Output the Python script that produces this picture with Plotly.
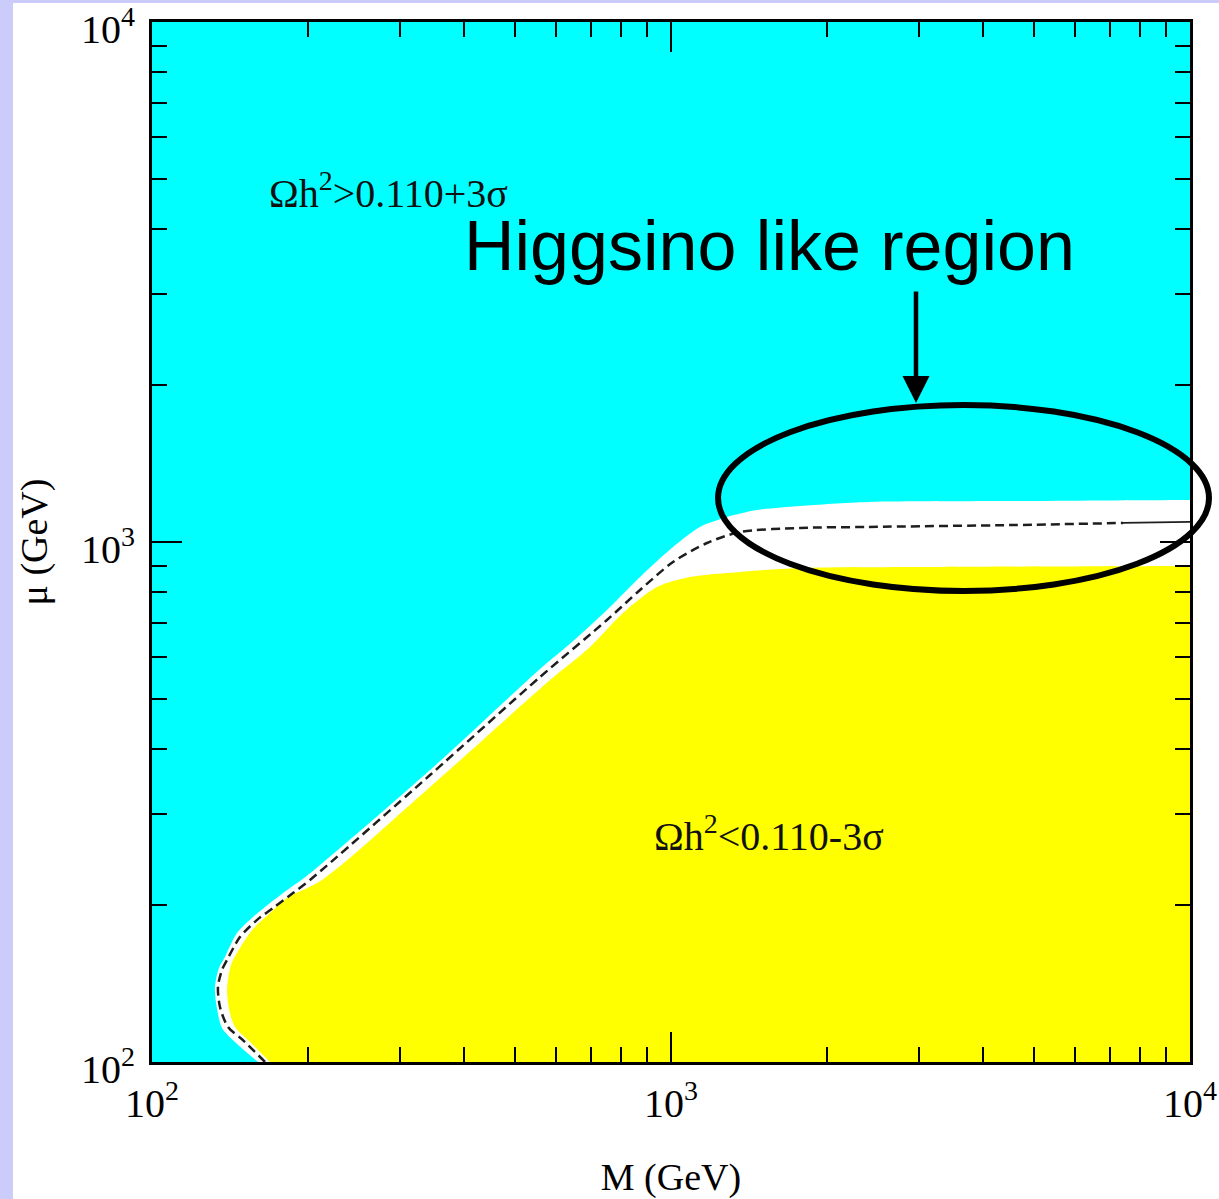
import numpy as np
import plotly.graph_objects as go

# ---------------- data (GeV) ----------------
# upper edge of the white band (boundary of the cyan region  Omega h^2 > 0.110+3sigma)
cyan_edge_M = [160.1, 144.5, 136.4, 133.4, 132.2, 134.6, 138.2, 145.8, 157.3, 168.8, 184.5, 198.9,
               343.3, 559.3, 647.6, 752.6, 871.6, 1009, 1137, 1282, 1465, 1773, 2397, 4580, 10000]
cyan_edge_mu = [100, 109.3, 116.3, 127.0, 138.8, 151.6, 159.2, 177.0, 190.9, 202.3, 216.1, 228.0,
                364.3, 569.9, 645.1, 740.0, 856.6, 978.1, 1069, 1117, 1152, 1173, 1194, 1199, 1205]

# lower edge of the white band (boundary of the yellow region  Omega h^2 < 0.110-3sigma)
yellow_edge_M = [168.8, 154.5, 144.5, 141.3, 139.5, 142.0, 147.7, 155.9, 168.8, 182.0, 212.6,
                 343.3, 584.7, 698.2, 808, 939.7, 1088, 1358, 1773, 3313, 10000]
yellow_edge_mu = [100, 109.3, 116.8, 124.2, 137.6, 153.7, 165.6, 179.4, 193.4, 206.8, 223.9,
                  337.9, 542.8, 628.3, 730.3, 819.5, 856.6, 875.8, 891.3, 895.2, 899.2]

# central value contour (dashed) and its solid continuation
dashed_M = [165.1, 149.7, 140.1, 135.2, 134.0, 136.4, 139.5, 147.7, 159.4, 171.1, 186.9, 201.6,
            343.3, 559.3, 752.6, 871.6, 1009, 1173, 1358, 1773, 2397, 4580, 7429]
dashed_mu = [100, 110.2, 116.8, 127.6, 139.4, 150.3, 157.1, 173.9, 187.6, 197.8, 211.3, 223.9,
             356.3, 550.0, 707.9, 808.7, 915.1, 995.6, 1045, 1064, 1069, 1078, 1088]
solid_M = [7429, 10000]
solid_mu = [1088, 1093]

# axes
x_range_log = [2, 4]
y_range_log = [2, 4]
major_ticks = [100, 1000, 10000]
major_text = ["10<sup>2</sup>", "10<sup>3</sup>", "10<sup>4</sup>"]
minor_ticks = [m * 10 ** e for e in (2, 3) for m in range(2, 10)]

# text labels (M, mu)
label_hi_text = "\u03a9h<sup>2</sup>&gt;0.110+3\u03c3"
label_hi_pos = (285, 4750)
label_lo_text = "\u03a9h<sup>2</sup>&lt;0.110-3\u03c3"
label_lo_pos = (1545, 275.6)
higgsino_text = "Higgsino like region"
higgsino_pos = (1551, 3708)
arrow_tip = (2965, 1851)

# ---------------- figure ----------------
XFAR = 10 ** 4.4
YLOW = 10 ** 1.6
CYAN = "#00ffff"
YELLOW = "#ffff00"

fig = go.Figure()

# white band + everything below the cyan edge
fig.add_trace(go.Scatter(
    x=cyan_edge_M + [XFAR, XFAR, cyan_edge_M[0]],
    y=cyan_edge_mu + [cyan_edge_mu[-1], YLOW, YLOW],
    mode="lines", fill="toself", fillcolor="white",
    line=dict(width=0, color="white", shape="spline", smoothing=0.8),
    hoverinfo="skip", showlegend=False))

# yellow region
fig.add_trace(go.Scatter(
    x=yellow_edge_M + [XFAR, XFAR, yellow_edge_M[0]],
    y=yellow_edge_mu + [yellow_edge_mu[-1], YLOW, YLOW],
    mode="lines", fill="toself", fillcolor=YELLOW,
    line=dict(width=0, color=YELLOW, shape="spline", smoothing=0.8),
    hoverinfo="skip", showlegend=False))

# dashed contour
fig.add_trace(go.Scatter(
    x=dashed_M, y=dashed_mu, mode="lines",
    line=dict(color="#1e1e1e", width=2.5, dash="9px,5px", shape="spline", smoothing=0.8),
    hoverinfo="skip", showlegend=False))
fig.add_trace(go.Scatter(
    x=solid_M, y=solid_mu, mode="lines",
    line=dict(color="#1e1e1e", width=1.8),
    hoverinfo="skip", showlegend=False))

serif = "Liberation Serif, Times New Roman, serif"

axis_common = dict(
    type="log", showgrid=False, zeroline=False,
    showline=True, linewidth=3, linecolor="black", mirror="ticks",
    ticks="inside", ticklen=30, tickwidth=2, tickcolor="black",
    tickmode="array", tickvals=major_ticks, ticktext=major_text,
    tickfont=dict(family=serif, size=40, color="black"),
    ticklabeloverflow="allow",
    minor=dict(tickmode="array", tickvals=minor_ticks, ticks="inside", ticklen=15,
               tickwidth=2, tickcolor="black", showgrid=False),
)

fig.update_xaxes(range=x_range_log, ticklabelstandoff=4,
                 title=dict(text="M (GeV)", font=dict(family=serif, size=38, color="black"), standoff=42),
                 **axis_common)
fig.update_yaxes(range=y_range_log, ticklabelstandoff=6, ticklabelshift=7,
                 title=dict(text="\u03bc (GeV)", font=dict(family=serif, size=38, color="black"), standoff=22),
                 **axis_common)

annotations = [
    dict(x=np.log10(label_hi_pos[0]), y=np.log10(label_hi_pos[1]), xref="x", yref="y",
         text=label_hi_text, showarrow=False,
         font=dict(family=serif, size=40, color="#111111")),
    dict(x=np.log10(label_lo_pos[0]), y=np.log10(label_lo_pos[1]), xref="x", yref="y",
         text=label_lo_text, showarrow=False,
         font=dict(family=serif, size=40, color="#111111")),
    dict(x=np.log10(higgsino_pos[0]), y=np.log10(higgsino_pos[1]), xref="x", yref="y",
         text=higgsino_text, showarrow=False,
         font=dict(family="Liberation Sans, Arial, sans-serif", size=70, color="black")),
    dict(x=np.log10(arrow_tip[0]), y=np.log10(arrow_tip[1]), xref="x", yref="y",
         text="", showarrow=True, ax=0, ay=-113, axref="pixel", ayref="pixel",
         arrowhead=2, arrowsize=1.2, arrowwidth=4.5, arrowcolor="black", standoff=0),
]

shapes = [
    # ellipse highlighting the Higgsino-like region
    dict(type="circle", xref="paper", yref="paper", x0=0.5453, x1=1.0183, y0=0.4529, y1=0.6317,
         line=dict(color="black", width=6), fillcolor="rgba(0,0,0,0)", layer="above"),
    # lavender page border strips
    dict(type="rect", xref="paper", yref="paper", x0=-0.16, x1=-0.1339, y0=-0.2, y1=1.1,
         line=dict(width=0), fillcolor="#ccccfa", layer="below"),
    dict(type="rect", xref="paper", yref="paper", x0=-0.16, x1=1.1, y0=1.0183, y1=1.1,
         line=dict(width=0), fillcolor="#ccccfa", layer="below"),
]

fig.update_layout(
    width=1219, height=1199,
    margin=dict(l=152, r=29, t=22, b=137, autoexpand=False),
    paper_bgcolor="white", plot_bgcolor=CYAN,
    showlegend=False,
    annotations=annotations, shapes=shapes,
)

fig.write_html("out.html", config={"displayModeBar": False},
               post_script="document.body.style.margin='0';")
